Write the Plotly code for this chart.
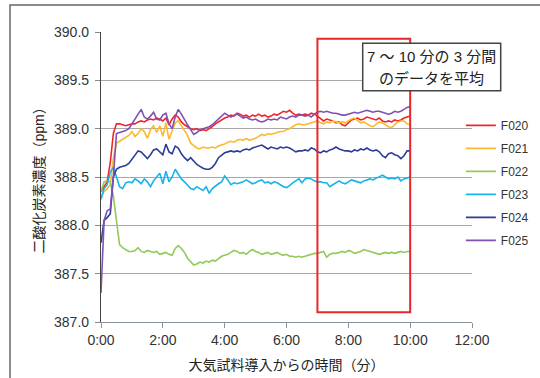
import plotly.graph_objects as go

# sample times in minutes (every 6 s)
times = [round(i * 0.1, 1) for i in range(101)]

F020 = [388.35, 388.40, 388.45, 388.65, 388.95, 389.05, 389.05, 389.04, 389.03, 389.04,
        389.05, 389.05, 389.07, 389.08, 389.07, 389.09, 389.10, 389.09, 389.11, 389.10,
        389.08, 389.11, 389.04, 389.10, 389.14, 389.12, 389.07, 389.04, 389.02, 389.00,
        388.99, 389.00, 388.98, 388.99, 388.98, 389.00, 389.02, 389.05, 389.07, 389.09,
        389.11, 389.12, 389.14, 389.13, 389.16, 389.15, 389.13, 389.14, 389.12, 389.14,
        389.13, 389.15, 389.13, 389.14, 389.12, 389.13, 389.15, 389.14, 389.16, 389.18,
        389.17, 389.19, 389.16, 389.14, 389.15, 389.14, 389.15, 389.14, 389.16, 389.15,
        389.13, 389.10, 389.08, 389.10, 389.09, 389.08, 389.06, 389.07, 389.04, 389.03,
        389.06, 389.09, 389.10, 389.11, 389.09, 389.10, 389.12, 389.11, 389.10, 389.09,
        389.11, 389.08, 389.07, 389.08, 389.07, 389.09, 389.08, 389.09, 389.11, 389.12,
        389.13]

F021 = [388.30, 388.35, 388.38, 388.42, 388.70, 388.85, 388.87, 388.89, 388.91, 388.93,
        388.97, 388.92, 388.95, 389.00, 388.97, 388.90, 388.99, 389.03, 388.96, 389.03,
        388.92, 389.06, 388.89, 388.98, 389.06, 389.08, 389.03, 388.98, 388.93, 388.85,
        388.82, 388.80, 388.79, 388.81, 388.80, 388.80, 388.81, 388.80, 388.82, 388.83,
        388.84, 388.86, 388.87, 388.86, 388.88, 388.89, 388.88, 388.90, 388.88, 388.89,
        388.90, 388.92, 388.94, 388.93, 388.95, 388.94, 388.95, 388.96, 388.97, 388.97,
        388.99, 389.00, 389.02, 389.04, 389.05, 389.04, 389.04, 389.05, 389.06, 389.07,
        389.08, 389.06, 389.05, 389.07, 389.06, 389.08, 389.07, 389.06, 389.07, 389.06,
        389.08, 389.10, 389.11, 389.08, 389.06, 389.07, 389.05, 389.03, 389.02, 389.05,
        389.07, 389.06, 389.04, 389.02, 389.01, 389.04, 389.07, 389.08, 389.08, 389.05,
        389.04]

F022 = [388.35, 388.45, 388.46, 388.45, 388.30, 388.05, 387.80, 387.77, 387.75, 387.73,
        387.73, 387.74, 387.77, 387.73, 387.72, 387.74, 387.73, 387.72, 387.73, 387.70,
        387.71, 387.72, 387.70, 387.69, 387.76, 387.79, 387.76, 387.72, 387.66, 387.62,
        387.59, 387.60, 387.62, 387.61, 387.63, 387.62, 387.64, 387.63, 387.66, 387.68,
        387.69, 387.70, 387.72, 387.74, 387.73, 387.71, 387.72, 387.70, 387.73, 387.75,
        387.73, 387.72, 387.70, 387.71, 387.72, 387.70, 387.71, 387.72, 387.70, 387.69,
        387.70, 387.68, 387.68, 387.67, 387.68, 387.67, 387.68, 387.69, 387.70, 387.71,
        387.71, 387.72, 387.73, 387.67, 387.70, 387.71, 387.71, 387.72, 387.73, 387.72,
        387.74, 387.73, 387.71, 387.72, 387.73, 387.75, 387.74, 387.73, 387.72, 387.71,
        387.70, 387.71, 387.72, 387.71, 387.72, 387.71, 387.72, 387.73, 387.72, 387.73,
        387.73]

F023 = [388.27, 388.38, 388.42, 388.55, 388.60, 388.50, 388.40, 388.38, 388.44, 388.45,
        388.44, 388.48, 388.46, 388.43, 388.48, 388.45, 388.40, 388.46, 388.50, 388.54,
        388.43, 388.56, 388.45, 388.50, 388.58, 388.53, 388.48, 388.45, 388.41, 388.38,
        388.37, 388.40, 388.38, 388.36, 388.40, 388.33, 388.38, 388.41, 388.43, 388.45,
        388.51, 388.47, 388.42, 388.44, 388.43, 388.44, 388.45, 388.47, 388.45, 388.43,
        388.44, 388.46, 388.47, 388.44, 388.45, 388.43, 388.45, 388.44, 388.42, 388.40,
        388.39, 388.41, 388.44, 388.46, 388.48, 388.44, 388.48, 388.49, 388.48, 388.46,
        388.45, 388.45, 388.44, 388.44, 388.40, 388.42, 388.44, 388.46, 388.44, 388.43,
        388.45, 388.47, 388.46, 388.45, 388.44, 388.46, 388.47, 388.48, 388.47, 388.49,
        388.50, 388.52, 388.50, 388.48, 388.49, 388.48, 388.50, 388.46, 388.48, 388.49,
        388.50]

F024 = [387.82, 388.05, 388.08, 388.12, 388.50, 388.58, 388.60, 388.61, 388.62, 388.64,
        388.68, 388.72, 388.77, 388.76, 388.72, 388.69, 388.73, 388.78, 388.79, 388.76,
        388.73, 388.84, 388.76, 388.74, 388.82, 388.80, 388.74, 388.70, 388.67, 388.70,
        388.66, 388.63, 388.61, 388.59, 388.58, 388.58, 388.60, 388.64, 388.70, 388.73,
        388.75, 388.76, 388.77, 388.76, 388.77, 388.76, 388.78, 388.79, 388.78, 388.80,
        388.81, 388.82, 388.83, 388.81, 388.79, 388.81, 388.80, 388.79, 388.81, 388.80,
        388.81, 388.80, 388.78, 388.76, 388.77, 388.77, 388.78, 388.77, 388.80, 388.79,
        388.76, 388.75, 388.77, 388.76, 388.78, 388.79, 388.81, 388.79, 388.78, 388.77,
        388.77, 388.76, 388.78, 388.77, 388.79, 388.78, 388.80, 388.78, 388.77, 388.78,
        388.76, 388.72, 388.70, 388.74, 388.75, 388.73, 388.72, 388.69, 388.72, 388.77,
        388.77]

F025 = [387.30, 388.05, 388.15, 388.17, 388.50, 388.95, 388.96, 388.97, 388.98, 389.00,
        389.05, 389.10, 389.14, 389.20, 389.12, 389.10, 389.13, 389.17, 389.10, 389.09,
        389.14, 389.16, 389.05, 389.00, 389.12, 389.20, 389.15, 389.09, 389.04, 388.99,
        388.94, 388.96, 388.99, 389.00, 389.01, 389.02, 389.04, 389.07, 389.10, 389.14,
        389.16, 389.14, 389.12, 389.14, 389.15, 389.13, 389.11, 389.12, 389.10, 389.09,
        389.10, 389.08, 389.07, 389.08, 389.10, 389.09, 389.10, 389.09, 389.12, 389.11,
        389.10, 389.12, 389.13, 389.12, 389.14, 389.14, 389.13, 389.14, 389.12, 389.15,
        389.17, 389.18, 389.17, 389.18, 389.17, 389.16, 389.16, 389.15, 389.14, 389.14,
        389.15, 389.16, 389.17, 389.16, 389.17, 389.18, 389.19, 389.18, 389.17, 389.18,
        389.18, 389.17, 389.16, 389.15, 389.16, 389.18, 389.17, 389.18, 389.20, 389.22,
        389.23]

series_names = ["F020", "F021", "F022", "F023", "F024", "F025"]
series_values = [F020, F021, F022, F023, F024, F025]
series_colors = ["#f0262b", "#fbb92e", "#92c95a", "#17b3ea", "#2b3d97", "#8150b4"]

x_tick_vals = [0, 2, 4, 6, 8, 10, 12]
x_tick_text = ["0:00", "2:00", "4:00", "6:00", "8:00", "10:00", "12:00"]
y_tick_vals = [387.0, 387.5, 388.0, 388.5, 389.0, 389.5, 390.0]

avg_start, avg_end = 7, 10
avg_low, avg_high = 387.1, 389.93
note_lines = ["7 ～ 10 分の 3 分間", "のデータを平均"]

FONT = "Liberation Sans, Arial, Noto Sans CJK JP, sans-serif"

fig = go.Figure()
for name, vals, col in zip(series_names, series_values, series_colors):
    fig.add_trace(go.Scatter(x=times, y=vals, mode="lines", name=name,
                             legendgroup=name,
                             line=dict(color=col, width=1.6)))

fig.update_layout(
    width=540, height=378,
    margin=dict(l=101, r=68, t=32, b=56, autoexpand=False),
    paper_bgcolor="white", plot_bgcolor="white",
    font=dict(family=FONT, size=14, color="#333333"),
    showlegend=True,
    legend=dict(x=0.97, y=0.728, xanchor="left", yanchor="top",
                font=dict(size=12, color="#333333"), tracegroupgap=4,
                bgcolor="rgba(0,0,0,0)"),
    xaxis=dict(range=[0, 12], tickvals=x_tick_vals, ticktext=x_tick_text,
               showgrid=False, zeroline=False, showline=True,
               linecolor="#8a949e", linewidth=1.2,
               ticks="outside", ticklen=5, tickcolor="#8a949e",
               tickfont=dict(size=14, color="#333333"),
               title=dict(text="大気試料導入からの時間（分）",
                          font=dict(size=14, color="#222222"), standoff=13)),
    yaxis=dict(range=[387.0, 390.0], tickvals=y_tick_vals, tickformat=".1f",
               showgrid=True, gridcolor="#a8a8a8", gridwidth=1.3,
               zeroline=False, showline=True, linecolor="#444444", linewidth=1.2,
               ticks="outside", ticklen=5, tickcolor="#888888",
               ticklabelstandoff=3,
               tickfont=dict(size=14, color="#333333"),
               title=dict(text="二酸化炭素濃度（ppm）",
                          font=dict(size=14, color="#222222"), standoff=6)),
)

# outer frame of the figure
fig.add_shape(type="rect", xref="paper", yref="paper",
              x0=-0.2453, x1=1.5, y0=-0.5, y1=1.0931,
              line=dict(color="#666666", width=1.5), fillcolor="rgba(0,0,0,0)",
              layer="below")

# averaging window
fig.add_shape(type="rect", xref="x", yref="y",
              x0=avg_start, x1=avg_end, y0=avg_low, y1=avg_high,
              line=dict(color="#e8262b", width=2), fillcolor="rgba(0,0,0,0)",
              layer="above")

# note box
fig.add_shape(type="rect", xref="paper", yref="paper",
              x0=(362.7 - 101) / 371, x1=(500.7 - 101) / 371,
              y0=(322 - 90.7) / 290, y1=(322 - 43.3) / 290,
              line=dict(color="#444444", width=1.5), fillcolor="white",
              layer="above")
for i, line in enumerate(note_lines):
    fig.add_annotation(xref="paper", yref="paper",
                       x=(431.7 - 101) / 371, y=(322 - (56 + 22 * i)) / 290,
                       text=line, showarrow=False, xanchor="center", yanchor="middle",
                       font=dict(size=15, color="#222222"))

fig.write_html("out.html")
